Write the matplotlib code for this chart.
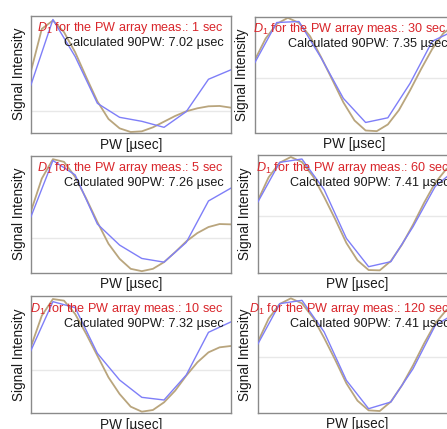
import matplotlib
matplotlib.use("Agg")
import matplotlib.pyplot as plt

plt.rcParams['font.family'] = ['Liberation Sans', 'DejaVu Sans']
plt.rcParams['mathtext.fontset'] = 'custom'
plt.rcParams['mathtext.rm'] = 'Liberation Sans'
plt.rcParams['mathtext.it'] = 'Liberation Sans:italic'

# --- Data (signal intensity in arbitrary units) ---
pw_meas = [1, 5, 9, 13, 17, 21, 25, 29, 33, 37]           # measured PW [usec]
pw_fit = [1, 3, 5, 7, 9, 11, 13, 15, 17, 19,
          21, 23, 25, 27, 29, 31, 33, 35, 37]              # fitted curve PW [usec]

d1_sec = ['1', '30', '5', '60', '10', '120']
pw90 = [7.02, 7.35, 7.26, 7.41, 7.32, 7.41]

meas_1s = [77, 275, 164, 24, -18, -30, -48, -1, 96, 124]
meas_30s = [44, 166, 169, 60, -61, -133, -119, -16, 110, 142]
meas_5s = [62, 232, 189, 42, -21, -61, -72, -13, 111, 149]
meas_60s = [41, 162, 172, 80, -66, -151, -136, -31, 90, 145]
meas_10s = [57, 205, 187, 50, -30, -82, -90, -15, 113, 144]
meas_120s = [37, 160, 170, 75, -70, -155, -135, -35, 95, 135]

fit_1s = [117, 247, 272, 237, 177, 102, 30, -23, -51, -62,
          -60, -48, -31, -14, 0, 9, 15, 16, 11]
fit_30s = [52, 118, 162, 180, 165, 125, 62, -5, -73, -127,
           -157, -159, -139, -96, -37, 27, 87, 134, 158]
fit_5s = [78, 178, 236, 228, 183, 118, 48, -17, -62, -92,
          -99, -92, -72, -42, -10, 15, 33, 42, 41]
fit_60s = [45, 117, 161, 178, 163, 120, 58, -9, -80, -132,
           -161, -162, -134, -85, -25, 41, 101, 142, 160]
fit_10s = [68, 163, 213, 208, 168, 108, 43, -22, -72, -110,
           -125, -120, -97, -62, -17, 23, 53, 68, 72]
fit_120s = [43, 115, 159, 176, 161, 118, 57, -9, -79, -131,
            -160, -162, -134, -85, -25, 41, 101, 141, 158]

meas_all = [meas_1s, meas_30s, meas_5s, meas_60s, meas_10s, meas_120s]
fit_all = [fit_1s, fit_30s, fit_5s, fit_60s, fit_10s, fit_120s]

# --- Layout: axes boxes in pixels (left, top, bottom) and y-range ---
W, H = 447, 429
boxes = [(30.7, 15.5, 133.0), (254.5, 16.5, 132.5),
         (30.7, 155.5, 272.5), (257.5, 155.0, 272.7),
         (30.7, 296.0, 413.0), (257.5, 296.0, 412.7)]
ylims = [(-65, 287), (-163, 184), (-103, 247),
         (-169, 184), (-129, 222), (-167, 183)]
AX_W = 200

BLUE = '#7e7ef8'
TAN = '#b9a57d'
RED = '#d9262b'
FS = 9.1

fig = plt.figure(figsize=(W / 100, H / 100), dpi=100)

for i in range(6):
    left, top, bottom = boxes[i]
    ax = fig.add_axes([left / W, 1 - bottom / H, AX_W / W, (bottom - top) / H])

    # zero line, fitted curve, measured points
    ax.axhline(0, color='#e8e8e8', linewidth=1.0, zorder=1)
    ax.plot(pw_fit, fit_all[i], color=TAN, linewidth=1.3, zorder=2)
    ax.plot(pw_meas, meas_all[i], color=BLUE, linewidth=1.0, zorder=3)

    ax.set_xlim(pw_meas[0], pw_meas[-1])
    ax.set_ylim(*ylims[i])
    ax.set_xticks([])
    ax.set_yticks([])
    for sp in ax.spines.values():
        sp.set_color('#8a8a8a')
        sp.set_linewidth(1.0)

    ax.annotate(r'$\mathit{D}_{1}$ for the PW array meas.: ' + d1_sec[i] + ' sec',
                xy=(1, 1), xycoords='axes fraction',
                xytext=(-7.5, -15.8), textcoords='offset pixels',
                ha='right', va='baseline', color=RED, fontsize=FS,
                annotation_clip=False)
    ax.annotate(f'Calculated 90PW: {pw90[i]:.2f} µsec',
                xy=(1, 1), xycoords='axes fraction',
                xytext=(-7.5, -30.8), textcoords='offset pixels',
                ha='right', va='baseline', color='#1a1a1a', fontsize=FS,
                annotation_clip=False)

    h = bottom - top
    ax.text(0.5, -11.5 / h, 'PW [µsec]', transform=ax.transAxes,
            ha='center', va='center', fontsize=9.8, color='#1a1a1a')
    ax.text(-12.2 / AX_W, 0.5, 'Signal Intensity', transform=ax.transAxes,
            rotation=90, ha='center', va='center', fontsize=9.8, color='#1a1a1a')

plt.savefig('out.png', dpi=100)
